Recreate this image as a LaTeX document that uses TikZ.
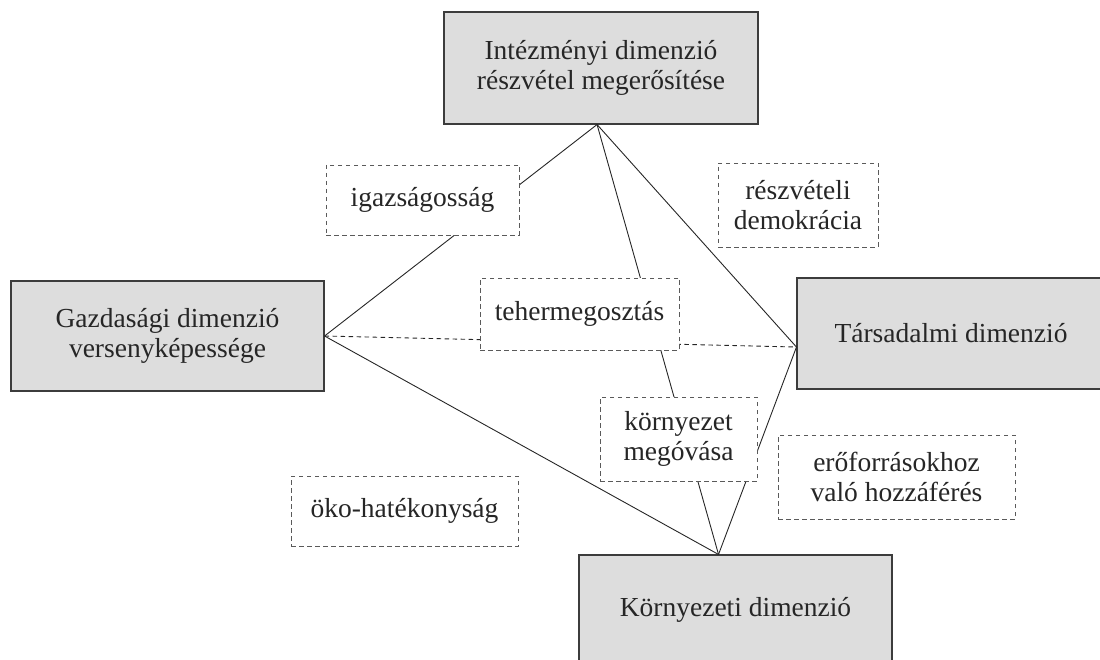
\documentclass[tikz,border=0pt]{standalone}
\usepackage{fontspec}
\setmainfont{Liberation Serif}
\usepackage{tikz}

\definecolor{boxgray}{RGB}{221,221,221}
\definecolor{edgegray}{RGB}{60,60,60}
\definecolor{dashgray}{RGB}{90,90,90}

\begin{document}
\begin{tikzpicture}[x=1pt,y=-1pt,
  dim/.style={rectangle,draw=edgegray,line width=1.1pt,fill=boxgray,inner sep=0pt,align=center,text=black!85},
  aspect/.style={rectangle,draw=dashgray,line width=0.9pt,dash pattern=on 4.5pt off 3.5pt,fill=white,inner sep=0pt,align=center,text=black!85},
  link/.style={draw=black!85,line width=0.9pt}]
\useasboundingbox (0,0) rectangle (1100,660);
\clip (0,0) rectangle (1100,660);
\fontsize{27.5}{30}\selectfont

\node[dim,minimum width=314pt,minimum height=112pt] (inst) at (601,68) {Intézményi dimenzió\\részvétel megerősítése};
\node[dim,minimum width=313pt,minimum height=110pt] (gazd) at (167.5,336) {Gazdasági dimenzió\\versenyképessége};
\node[dim,minimum width=308pt,minimum height=111pt] (tars) at (951,333.5) {Társadalmi dimenzió};
\node[dim,minimum width=313pt,minimum height=110pt] (korny) at (735.5,610) {Környezeti dimenzió};

\draw[link] (inst.266) -- (gazd.east);
\draw[link] (inst.266) -- (korny.107);
\draw[link] (inst.266) -- (tars.185);
\draw[link] (gazd.east) -- (korny.107);
\draw[link] (tars.185) -- (korny.107);
\draw[link,dash pattern=on 4.5pt off 3.5pt] (gazd.east) -- (tars.185);

\node[aspect,minimum width=193pt,minimum height=70pt] (igaz) at (422.5,200) {igazságosság};
\node[aspect,minimum width=160pt,minimum height=84pt] (reszdem) at (798,205) {részvételi\\demokrácia};
\node[aspect,minimum width=199pt,minimum height=72pt] (teher) at (579.5,314) {tehermegosztás};
\node[aspect,minimum width=157pt,minimum height=84pt] (megov) at (678.5,439) {környezet\\megóvása};
\node[aspect,minimum width=227pt,minimum height=70pt] (oko) at (404.5,511) {öko-hatékonyság};
\node[aspect,minimum width=237pt,minimum height=84pt] (eroforr) at (896.5,477) {erőforrásokhoz\\való hozzáférés};
\end{tikzpicture}
\end{document}
